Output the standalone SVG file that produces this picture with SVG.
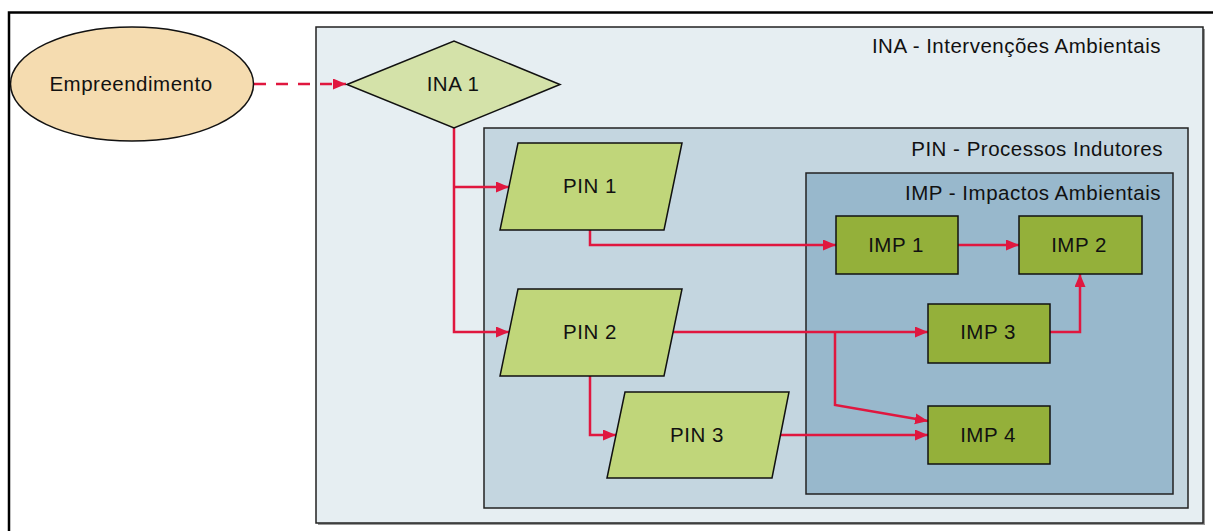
<svg xmlns="http://www.w3.org/2000/svg" width="1213" height="531" viewBox="0 0 1213 531">
<defs>
<marker id="arr" markerUnits="userSpaceOnUse" markerWidth="14" markerHeight="12" refX="13" refY="5.5" orient="auto">
<path d="M0,0 L13,5.5 L0,11 z" fill="#e0173f"/>
</marker>
</defs>
<style>
text{font-family:"Liberation Sans",Arial,sans-serif;font-size:20.5px;letter-spacing:0.5px;fill:#111}
.c{text-anchor:middle}
.r{text-anchor:end}
.ob{stroke:#222;stroke-width:1.5}
.n{stroke:#111;stroke-width:1.5}
.cn{fill:none;stroke:#e0173f;stroke-width:2.5}
</style>
<rect width="1213" height="531" fill="#fff"/>
<rect x="9" y="12.5" width="1300" height="600" fill="none" stroke="#000" stroke-width="2.5"/>
<g id="ina-group">
<rect x="318" y="29" width="887" height="496" fill="#555" opacity="0.6"/>
<rect x="316" y="27" width="887" height="496" fill="#e6eef2" class="ob"/>
<text x="1161" y="53" class="r">INA - Intervenções Ambientais</text>
</g>
<g id="pin-group">
<rect x="484" y="128" width="704" height="380" fill="#c4d6e0" class="ob"/>
<text x="1163" y="156" class="r">PIN - Processos Indutores</text>
</g>
<g id="imp-group">
<rect x="806" y="173" width="367" height="321" fill="#98b8cc" class="ob"/>
<text x="1161" y="200" class="r">IMP - Impactos Ambientais</text>
</g>
<g id="connectors">
<path class="cn" d="M254,84 H346" stroke-dasharray="12,10" marker-end="url(#arr)"/>
<path class="cn" d="M454,128 V332 H509" marker-end="url(#arr)"/>
<path class="cn" d="M454,187 H509" marker-end="url(#arr)"/>
<path class="cn" d="M590,230 V245 H836" marker-end="url(#arr)"/>
<path class="cn" d="M958,245 H1019" marker-end="url(#arr)"/>
<path class="cn" d="M673,332 H928" marker-end="url(#arr)"/>
<path class="cn" d="M835,332 V405 L928,421" marker-end="url(#arr)"/>
<path class="cn" d="M1049,332 H1080 V274" marker-end="url(#arr)"/>
<path class="cn" d="M590,376 V435 H616" marker-end="url(#arr)"/>
<path class="cn" d="M780,435 H928" marker-end="url(#arr)"/>
</g>
<g id="empreendimento">
<ellipse cx="132" cy="84" rx="121.5" ry="57" fill="#f5dcb0" class="n"/>
<text x="131" y="91" class="c">Empreendimento</text>
</g>
<g id="ina1">
<polygon points="347,84.5 454,41 560,84.5 454,128" fill="#d4e2a9" class="n"/>
<text x="453" y="91" class="c">INA 1</text>
</g>
<g id="pin1">
<polygon points="518,143 682,143 664,230 500,230" fill="#c0d67a" class="n"/>
<text x="590" y="193" class="c">PIN 1</text>
</g>
<g id="pin2">
<polygon points="518,289 682,289 664,376 500,376" fill="#c0d67a" class="n"/>
<text x="590" y="339" class="c">PIN 2</text>
</g>
<g id="pin3">
<polygon points="625,392 789,392 772,478 607,478" fill="#c0d67a" class="n"/>
<text x="697" y="442" class="c">PIN 3</text>
</g>
<g id="imp1">
<rect x="836" y="216" width="122" height="58" fill="#94b03a" class="n"/>
<text x="896" y="252" class="c">IMP 1</text>
</g>
<g id="imp2">
<rect x="1019" y="216" width="123" height="58" fill="#94b03a" class="n"/>
<text x="1079" y="252" class="c">IMP 2</text>
</g>
<g id="imp3">
<rect x="928" y="304" width="122" height="59" fill="#94b03a" class="n"/>
<text x="988" y="339" class="c">IMP 3</text>
</g>
<g id="imp4">
<rect x="928" y="406" width="122" height="58" fill="#94b03a" class="n"/>
<text x="988" y="442" class="c">IMP 4</text>
</g>
</svg>
